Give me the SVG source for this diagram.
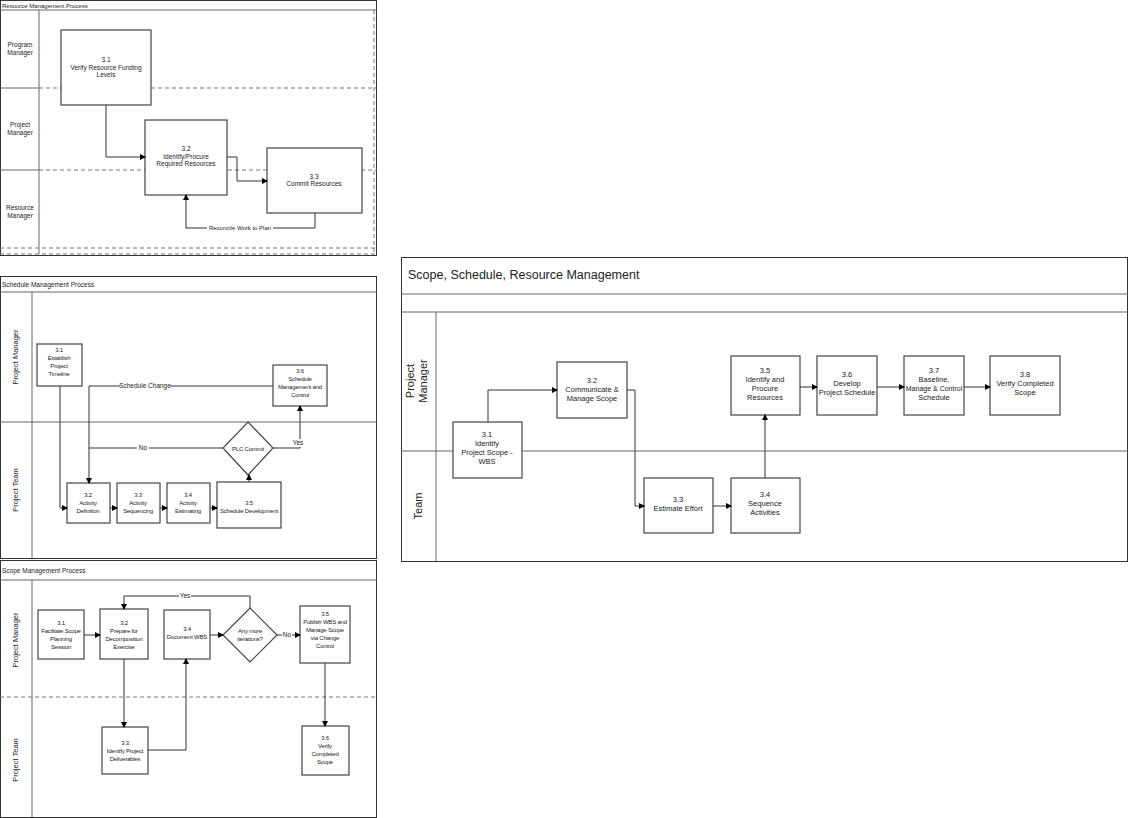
<svg xmlns="http://www.w3.org/2000/svg" width="1130" height="818" viewBox="0 0 1130 818">
<defs>
<marker id="ah" markerWidth="6" markerHeight="6" refX="5" refY="3" orient="auto" markerUnits="userSpaceOnUse"><path d="M0,0 L6,3 L0,6 z" fill="#000"/></marker>
<style>
text{font-family:"Liberation Sans",Arial,sans-serif;fill:#222;}
.s{font-size:6.5px;text-anchor:middle}
.n{font-size:6px;text-anchor:middle;letter-spacing:-0.2px}
.m{font-size:7.5px;text-anchor:middle}
.t{font-size:7px}
.box{fill:#fff;stroke:#444;stroke-width:1.2}
.frame{fill:#fff;stroke:#333;stroke-width:1}
.ln{stroke:#666;stroke-width:1}
.dash{stroke:#777;stroke-width:1;stroke-dasharray:4,3}
.c{fill:none;stroke:#333;stroke-width:1;marker-end:url(#ah)}
.cn{fill:none;stroke:#333;stroke-width:1}
.lab{font-size:7px;text-anchor:middle}
.bg{fill:#fff}
</style>
</defs>
<rect width="1130" height="818" fill="#fff"/>
<g id="panel-resource">
<rect class="frame" x="0.5" y="0.5" width="376" height="255"/>
<line class="ln" x1="0" y1="10" x2="377" y2="10"/>
<text class="t" x="2" y="8" style="font-size:6px">Resource Management Process</text>
<line class="ln" x1="39" y1="10" x2="39" y2="254"/>
<line class="ln" x1="0" y1="88" x2="39" y2="88"/><line class="dash" x1="39" y1="88" x2="377" y2="88"/>
<line class="ln" x1="0" y1="170" x2="39" y2="170"/><line class="dash" x1="39" y1="170" x2="377" y2="170"/>
<line class="dash" x1="0" y1="248" x2="377" y2="248"/>
<line class="dash" x1="0" y1="254" x2="377" y2="254"/>
<line class="dash" x1="374" y1="10" x2="374" y2="254"/>
<text class="s" x="20" y="47">Program</text><text class="s" x="20" y="55">Manager</text>
<text class="s" x="20" y="127">Project</text><text class="s" x="20" y="135">Manager</text>
<text class="s" x="20" y="210">Resource</text><text class="s" x="20" y="218">Manager</text>
</g>
<g id="r31"><rect class="box" x="61" y="30" width="90" height="75"/><text class="s" x="106" y="62">3.1</text><text class="s" x="106" y="70">Verify Resource Funding</text><text class="s" x="106" y="77">Levels</text></g>
<g id="r32"><rect class="box" x="145" y="120" width="82" height="75"/><text class="s" x="186" y="151">3.2</text><text class="s" x="186" y="159">Identify/Procure</text><text class="s" x="186" y="166">Required Resources</text></g>
<g id="r33"><rect class="box" x="267" y="148" width="95" height="65"/><text class="s" x="314" y="179">3.3</text><text class="s" x="314" y="186">Commit Resources</text></g>
<g id="panel-schedule">
<rect class="frame" x="0.5" y="276.5" width="376" height="282"/>
<line class="ln" x1="0" y1="292" x2="377" y2="292"/>
<text class="t" x="2" y="287" style="font-size:6.5px">Schedule Management Process</text>
<line class="ln" x1="32" y1="292" x2="32" y2="558"/>
<line class="ln" x1="0" y1="422" x2="377" y2="422"/>
<text class="m" transform="translate(18,357) rotate(-90)">Project Manager</text>
<text class="m" transform="translate(18,490) rotate(-90)">Project Team</text>
</g>
<g id="s31"><rect class="box" x="37" y="344" width="45" height="42"/><text class="n" x="59" y="352">3.1</text><text class="n" x="59" y="360">Establish</text><text class="n" x="59" y="368">Project</text><text class="n" x="59" y="376">Timeline</text></g>
<g id="s36"><rect class="box" x="273" y="365" width="54" height="41"/><text class="n" x="300" y="373">3.6</text><text class="n" x="300" y="381">Schedule</text><text class="n" x="300" y="389">Management and</text><text class="n" x="300" y="397">Control</text></g>
<g id="s32"><rect class="box" x="67" y="483" width="43" height="40"/><text class="n" x="88" y="497">3.2</text><text class="n" x="88" y="505">Activity</text><text class="n" x="88" y="513">Definition</text></g>
<g id="s33"><rect class="box" x="117" y="483" width="43" height="40"/><text class="n" x="138" y="497">3.3</text><text class="n" x="138" y="505">Activity</text><text class="n" x="138" y="513">Sequencing</text></g>
<g id="s34"><rect class="box" x="167" y="483" width="43" height="40"/><text class="n" x="188" y="497">3.4</text><text class="n" x="188" y="505">Activity</text><text class="n" x="188" y="513">Estimating</text></g>
<g id="s35"><rect class="box" x="217" y="482" width="64" height="46"/><text class="n" x="249" y="505">3.5</text><text class="n" x="249" y="513">Schedule Development</text></g>
<g id="sd"><polygon class="box" points="248,422 273,448 248,475 223,448"/><text class="n" x="248" y="451">PLC Commit</text></g>
<g id="panel-scope">
<rect class="frame" x="0.5" y="560.5" width="376" height="257"/>
<line class="ln" x1="0" y1="580" x2="377" y2="580"/>
<text class="t" x="2" y="573" style="font-size:6.5px">Scope Management Process</text>
<line class="ln" x1="32" y1="580" x2="32" y2="818"/>
<line class="dash" x1="0" y1="697" x2="377" y2="697"/>
<text class="m" transform="translate(18,640) rotate(-90)">Project Manager</text>
<text class="m" transform="translate(18,760) rotate(-90)">Project Team</text>
</g>
<g id="p31"><rect class="box" x="38" y="610" width="46" height="49"/><text class="n" x="61" y="625">3.1</text><text class="n" x="61" y="633">Facilitate Scope</text><text class="n" x="61" y="641">Planning</text><text class="n" x="61" y="649">Session</text></g>
<g id="p32"><rect class="box" x="100" y="609" width="48" height="50"/><text class="n" x="124" y="625">3.2</text><text class="n" x="124" y="633">Prepare for</text><text class="n" x="124" y="641">Decomposition</text><text class="n" x="124" y="649">Exercise</text></g>
<g id="p34"><rect class="box" x="164" y="610" width="46" height="49"/><text class="n" x="187" y="631">3.4</text><text class="n" x="187" y="639">Document WBS</text></g>
<g id="pd"><polygon class="box" points="250,608 277,635 250,662 223,635"/><text class="n" x="250" y="633">Any more</text><text class="n" x="250" y="641">iterations?</text></g>
<g id="p35"><rect class="box" x="300" y="606" width="50" height="57"/><text class="n" x="325" y="616">3.5</text><text class="n" x="325" y="624">Publish WBS and</text><text class="n" x="325" y="632">Manage Scope</text><text class="n" x="325" y="640">via Change</text><text class="n" x="325" y="648">Control</text></g>
<g id="p33"><rect class="box" x="102" y="727" width="46" height="47"/><text class="n" x="125" y="745">3.3</text><text class="n" x="125" y="753">Identify Project</text><text class="n" x="125" y="761">Deliverables</text></g>
<g id="p36"><rect class="box" x="302" y="726" width="47" height="49"/><text class="n" x="325" y="740">3.6</text><text class="n" x="325" y="748">Verify</text><text class="n" x="325" y="756">Completed</text><text class="n" x="325" y="764">Scope</text></g>
<g id="panel-main">
<rect class="frame" x="401.5" y="257.5" width="726" height="304"/>
<line class="ln" x1="401" y1="294" x2="1128" y2="294"/>
<line class="ln" x1="401" y1="312" x2="1128" y2="312"/>
<text x="408" y="279" style="font-size:12.5px">Scope, Schedule, Resource Management</text>
<line class="ln" x1="436" y1="312" x2="436" y2="561"/>
<line class="ln" x1="401" y1="451" x2="1128" y2="451"/>
<text style="font-size:11px;text-anchor:middle" transform="translate(418,381) rotate(-90)"><tspan x="0" y="-4">Project</tspan><tspan x="0" y="9">Manager</tspan></text>
<text style="font-size:11px;text-anchor:middle" transform="translate(422,506) rotate(-90)">Team</text>
</g>
<g id="m31"><rect class="box" x="453" y="422" width="69" height="56"/><text class="m" x="487" y="437">3.1</text><text class="m" x="487" y="446">Identify</text><text class="m" x="487" y="455">Project Scope -</text><text class="m" x="487" y="464">WBS</text></g>
<g id="m32"><rect class="box" x="557" y="362" width="70" height="56"/><text class="m" x="592" y="383">3.2</text><text class="m" x="592" y="392">Communicate &amp;</text><text class="m" x="592" y="401">Manage Scope</text></g>
<g id="m35"><rect class="box" x="731" y="356" width="69" height="59"/><text class="m" x="765" y="373">3.5</text><text class="m" x="765" y="382">Identify and</text><text class="m" x="765" y="391">Procure</text><text class="m" x="765" y="400">Resources</text></g>
<g id="m36"><rect class="box" x="817" y="356" width="60" height="59"/><text class="m" x="847" y="377">3.6</text><text class="m" x="847" y="386">Develop</text><text class="m" x="847" y="395">Project Schedule</text></g>
<g id="m37"><rect class="box" x="904" y="356" width="60" height="59"/><text class="m" x="934" y="373">3.7</text><text class="m" x="934" y="382">Baseline,</text><text class="m" x="934" y="391" style="font-size:7px">Manage &amp; Control</text><text class="m" x="934" y="400">Schedule</text></g>
<g id="m38"><rect class="box" x="990" y="356" width="70" height="59"/><text class="m" x="1025" y="377">3.8</text><text class="m" x="1025" y="386">Verify Completed</text><text class="m" x="1025" y="395">Scope</text></g>
<g id="m33"><rect class="box" x="644" y="478" width="69" height="55"/><text class="m" x="678" y="502">3.3</text><text class="m" x="678" y="511">Estimate Effort</text></g>
<g id="m34"><rect class="box" x="731" y="478" width="69" height="55"/><text class="m" x="765" y="497">3.4</text><text class="m" x="765" y="506">Sequence</text><text class="m" x="765" y="515">Activities</text></g>
<g id="connectors">
<path class="c" d="M106,105 V157 H145"/>
<path class="c" d="M227,157 H237 V181 H267"/>
<path class="c" d="M315,213 V228 H186 V195"/>
<rect class="bg" x="207" y="225" width="66" height="6"/>
<text class="lab" x="240" y="230" style="font-size:6px">Reconcile Work to Plan</text>
<path class="c" d="M60,386 V508 H67"/>
<path class="c" d="M273,386 H89 V483"/>
<rect class="bg" x="120" y="382" width="50" height="8"/>
<text class="lab" x="145" y="388" style="font-size:6.5px">Schedule Change</text>
<path class="cn" d="M223,448 H89"/>
<rect class="bg" x="137" y="444" width="12" height="8"/>
<text class="lab" x="143" y="450" style="font-size:6.5px">No</text>
<path class="c" d="M273,448 H300 V406"/>
<rect class="bg" x="292" y="439" width="12" height="8"/>
<text class="lab" x="298" y="445" style="font-size:6.5px">Yes</text>
<path class="c" d="M249,482 V475"/>
<path class="c" d="M110,508 H117"/><path class="c" d="M160,508 H167"/><path class="c" d="M210,508 H217"/>
<path class="c" d="M84,635 H100"/>
<path class="c" d="M124,659 V727"/>
<path class="c" d="M148,750 H186 V659"/>
<path class="c" d="M210,635 H223"/>
<path class="c" d="M277,635 H300"/>
<rect class="bg" x="282" y="631" width="10" height="8"/>
<text class="lab" x="287" y="637" style="font-size:6.5px">No</text>
<path class="c" d="M250,608 V596 H124 V609"/>
<rect class="bg" x="179" y="592" width="12" height="8"/>
<text class="lab" x="185" y="598" style="font-size:6.5px">Yes</text>
<path class="c" d="M325,663 V726"/>
<path class="c" d="M488,422 V390 H557"/>
<path class="c" d="M627,390 H635 V506 H644"/>
<path class="c" d="M713,506 H731"/>
<path class="c" d="M765,478 V415"/>
<path class="c" d="M800,387 H817"/><path class="c" d="M877,387 H904"/><path class="c" d="M964,387 H990"/>
</g>
</svg>
